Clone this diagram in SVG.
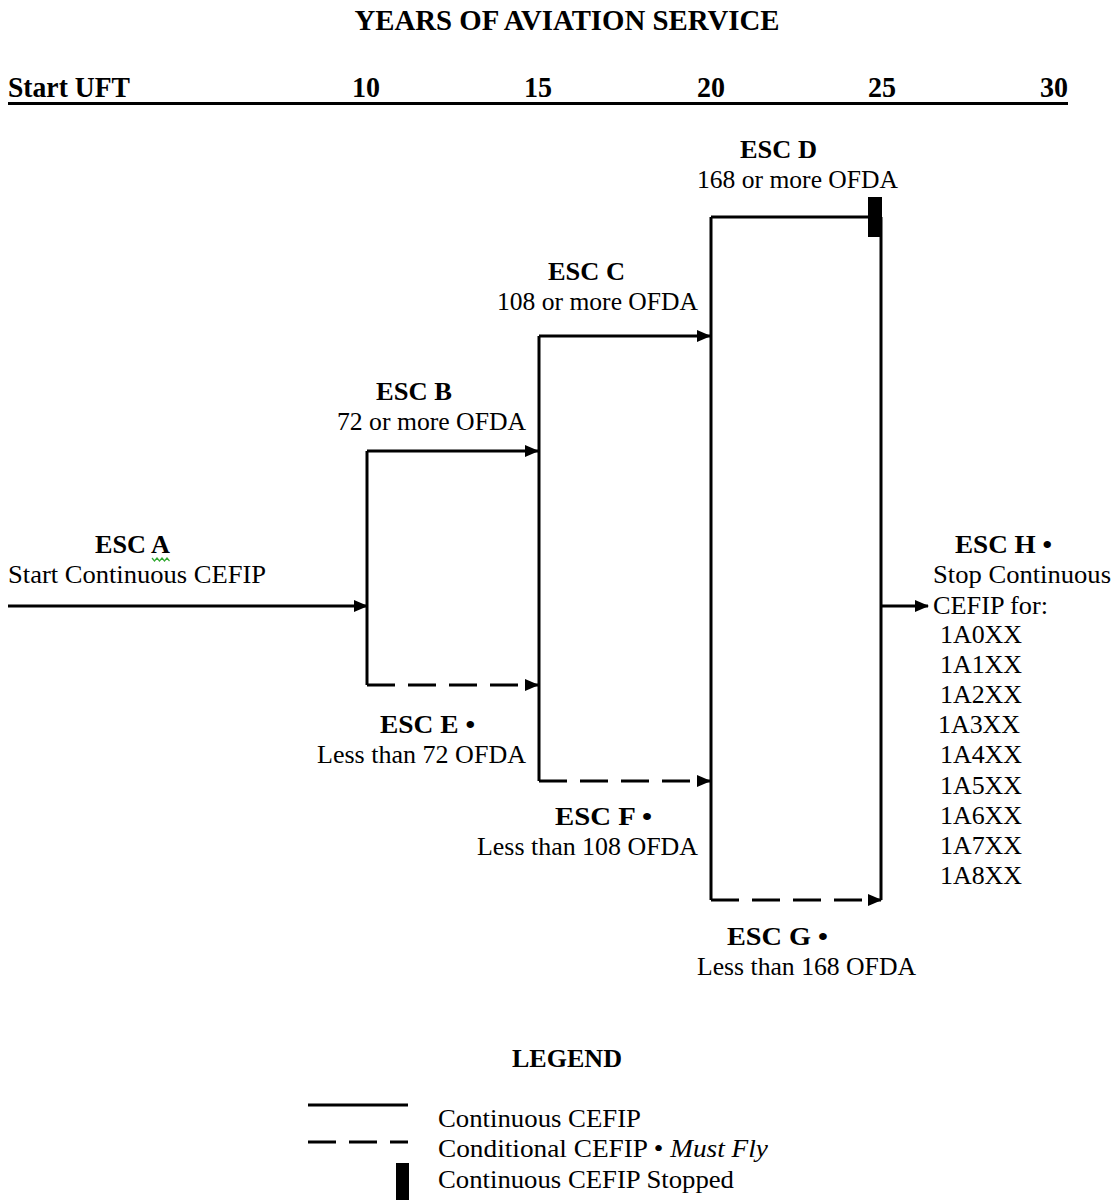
<svg xmlns="http://www.w3.org/2000/svg" width="1118" height="1200" viewBox="0 0 1118 1200">
<style>
text{font-family:"Liberation Serif","Times New Roman",serif;fill:#000;font-size:25px}
.b{font-weight:bold}
.hd{font-weight:bold;font-size:29px}
.ln{stroke:#000;stroke-width:3;fill:none}
.ds{stroke:#000;stroke-width:3;fill:none;stroke-dasharray:28 13}
</style>
<defs>
<marker id="ah" markerUnits="userSpaceOnUse" markerWidth="14" markerHeight="12" refX="13" refY="6" orient="auto">
<path d="M0,0 L14,6 L0,12 Z" fill="#000"/>
</marker>
</defs>
<g id="header">
<text class="hd" x="567" y="30" text-anchor="middle" textLength="425" lengthAdjust="spacingAndGlyphs">YEARS OF AVIATION  SERVICE</text>
<text class="hd" x="8" y="97" textLength="122" lengthAdjust="spacingAndGlyphs">Start UFT</text>
<text class="hd" x="352" y="97" textLength="28" lengthAdjust="spacingAndGlyphs">10</text>
<text class="hd" x="524" y="97" textLength="28" lengthAdjust="spacingAndGlyphs">15</text>
<text class="hd" x="697" y="97" textLength="28" lengthAdjust="spacingAndGlyphs">20</text>
<text class="hd" x="868" y="97" textLength="28" lengthAdjust="spacingAndGlyphs">25</text>
<text class="hd" x="1040" y="97" textLength="28" lengthAdjust="spacingAndGlyphs">30</text>
<line x1="8" y1="103.5" x2="1068" y2="103.5" stroke="#000" stroke-width="3"/>
</g>
<g id="connectors">
<line class="ln" x1="8" y1="606" x2="367" y2="606" marker-end="url(#ah)"/>
<line class="ln" x1="367" y1="451" x2="367" y2="685"/>
<line class="ln" x1="367" y1="451" x2="538" y2="451" marker-end="url(#ah)"/>
<line class="ds" x1="367" y1="685" x2="538" y2="685" marker-end="url(#ah)"/>
<line class="ln" x1="539" y1="336" x2="539" y2="781"/>
<line class="ln" x1="539" y1="336" x2="710" y2="336" marker-end="url(#ah)"/>
<line class="ds" x1="539" y1="781" x2="710" y2="781" marker-end="url(#ah)"/>
<line class="ln" x1="711" y1="217" x2="711" y2="900"/>
<line class="ln" x1="711" y1="217" x2="872" y2="217"/>
<rect x="868" y="197" width="14" height="40" fill="#000"/>
<line class="ln" x1="881" y1="217" x2="881" y2="900"/>
<line class="ds" x1="711" y1="900" x2="881" y2="900" marker-end="url(#ah)"/>
<line class="ln" x1="881" y1="606" x2="928" y2="606" marker-end="url(#ah)"/>
</g>
<g id="escA">
<text class="b" x="95" y="553" textLength="75" lengthAdjust="spacingAndGlyphs">ESC A</text>
<path d="M152,558 l2.5,3 l2.5,-3 l2.5,3 l2.5,-3 l2.5,3 l2.5,-3 l2.5,3" stroke="#3a3" stroke-width="1.2" fill="none"/>
<text x="8" y="583" textLength="258" lengthAdjust="spacingAndGlyphs">Start Continuous CEFIP</text>
</g>
<g id="escB">
<text class="b" x="376" y="400" textLength="76" lengthAdjust="spacingAndGlyphs">ESC B</text>
<text x="337" y="430" textLength="189" lengthAdjust="spacingAndGlyphs">72 or more OFDA</text>
</g>
<g id="escC">
<text class="b" x="548" y="280" textLength="77" lengthAdjust="spacingAndGlyphs">ESC C</text>
<text x="497" y="310" textLength="201" lengthAdjust="spacingAndGlyphs">108 or more OFDA</text>
</g>
<g id="escD">
<text class="b" x="740" y="158" textLength="77" lengthAdjust="spacingAndGlyphs">ESC D</text>
<text x="697" y="188" textLength="201" lengthAdjust="spacingAndGlyphs">168 or more OFDA</text>
</g>
<g id="escE">
<text class="b" x="380" y="733" textLength="95" lengthAdjust="spacingAndGlyphs">ESC E •</text>
<text x="317" y="763" textLength="209" lengthAdjust="spacingAndGlyphs">Less than 72 OFDA</text>
</g>
<g id="escF">
<text class="b" x="555" y="825" textLength="97" lengthAdjust="spacingAndGlyphs">ESC F •</text>
<text x="477" y="855" textLength="221" lengthAdjust="spacingAndGlyphs">Less than 108 OFDA</text>
</g>
<g id="escG">
<text class="b" x="727" y="945" textLength="101" lengthAdjust="spacingAndGlyphs">ESC G •</text>
<text x="697" y="975" textLength="219" lengthAdjust="spacingAndGlyphs">Less than 168 OFDA</text>
</g>
<g id="escH">
<text class="b" x="955" y="553" textLength="97" lengthAdjust="spacingAndGlyphs">ESC H •</text>
<text x="933" y="583" textLength="178" lengthAdjust="spacingAndGlyphs">Stop Continuous</text>
<text x="933" y="614" textLength="115" lengthAdjust="spacingAndGlyphs">CEFIP for:</text>
<text x="940" y="643" textLength="82" lengthAdjust="spacingAndGlyphs">1A0XX</text>
<text x="940" y="673" textLength="82" lengthAdjust="spacingAndGlyphs">1A1XX</text>
<text x="940" y="703" textLength="82" lengthAdjust="spacingAndGlyphs">1A2XX</text>
<text x="938" y="733" textLength="82" lengthAdjust="spacingAndGlyphs">1A3XX</text>
<text x="940" y="763" textLength="82" lengthAdjust="spacingAndGlyphs">1A4XX</text>
<text x="940" y="794" textLength="82" lengthAdjust="spacingAndGlyphs">1A5XX</text>
<text x="940" y="824" textLength="82" lengthAdjust="spacingAndGlyphs">1A6XX</text>
<text x="940" y="854" textLength="82" lengthAdjust="spacingAndGlyphs">1A7XX</text>
<text x="940" y="884" textLength="82" lengthAdjust="spacingAndGlyphs">1A8XX</text>
</g>
<g id="legend">
<text class="b" x="567" y="1067" text-anchor="middle" textLength="110" lengthAdjust="spacingAndGlyphs">LEGEND</text>
<line x1="308" y1="1105" x2="408" y2="1105" stroke="#000" stroke-width="3"/>
<text x="438" y="1127" textLength="203" lengthAdjust="spacingAndGlyphs">Continuous CEFIP</text>
<line x1="308" y1="1142" x2="408" y2="1142" stroke="#000" stroke-width="3" stroke-dasharray="28 13"/>
<text x="438" y="1157" textLength="330" lengthAdjust="spacingAndGlyphs">Conditional CEFIP  • <tspan font-style="italic">Must Fly</tspan></text>
<rect x="396" y="1163" width="13" height="37" fill="#000"/>
<text x="438" y="1188" textLength="296" lengthAdjust="spacingAndGlyphs">Continuous CEFIP Stopped</text>
</g>
</svg>
